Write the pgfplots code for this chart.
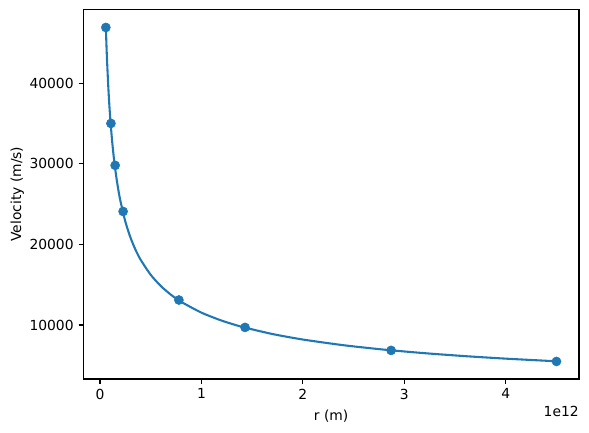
\documentclass[border=0pt]{standalone}
\usepackage{fontspec}
\setmainfont{DejaVu Sans}
\usepackage{pgfplots}
\pgfplotsset{compat=1.18}
\usetikzlibrary{calc}
\definecolor{mplblue}{HTML}{1F77B4}
\begin{document}
\fontsize{10.4}{12.5}\selectfont
\begin{tikzpicture}
\begin{axis}[
  scale only axis,
  width=371.8pt, height=277.3pt,
  xmin=-0.1642, xmax=4.7221,
  ymin=3300, ymax=49150,
  xtick={0,1,2,3,4},
  ytick={10000,20000,30000,40000},
  tick pos=left,
  tick align=outside,
  major tick length=3.6pt,
  every tick/.style={black, line width=0.83pt},
  axis line style={line width=0.83pt},
  /pgf/number format/assume math mode=true,
  /pgf/number format/1000 sep={},
  scaled x ticks=false, scaled y ticks=false,
  tick label style={font=\fontsize{10.4}{12.5}\selectfont},
  label style={font=\fontsize{10.4}{12.5}\selectfont},
  xlabel={r (m)},
  ylabel={Velocity (m/s)},
  ylabel style={yshift=-3pt},
  xlabel style={yshift=-1pt},
  clip=false,
]
\addplot[mplblue, line width=1.56pt, line join=round, smooth, tension=0.4] table {
x y
0.0579 46900
0.065 44306
0.07 42717
0.08 40002
0.09 37744
0.10 35838
0.12 32761
0.14 30366
0.16 28435
0.18 26833
0.20 25475
0.25 22824
0.30 20864
0.35 19339
0.40 18109
0.50 16225
0.60 14831
0.70 13748
0.80 12873
1.0 11533
1.2 10542
1.4 9772
1.7 8881
2.0 8198
2.4 7494
2.8 6946
3.2 6505
3.6 6138
4.0 5828
4.5 5499
};
\addplot[only marks, mark=*, mark size=3.4pt, mark options={fill=mplblue, draw=mplblue}] table {
x y
0.0579 46900
0.108 35000
0.1496 29800
0.228 24080
0.778 13100
1.43 9700
2.87 6850
4.5 5480
};
\node[anchor=north east, inner sep=0pt] at (rel axis cs:1,0) [yshift=-20.5pt] {1e12};
\end{axis}
\pgfresetboundingbox
\path ($(current axis.south west)+(-62.5pt,-39.75pt)$) rectangle ($(current axis.north east)+(7.5pt,7pt)$);
\end{tikzpicture}
\end{document}
